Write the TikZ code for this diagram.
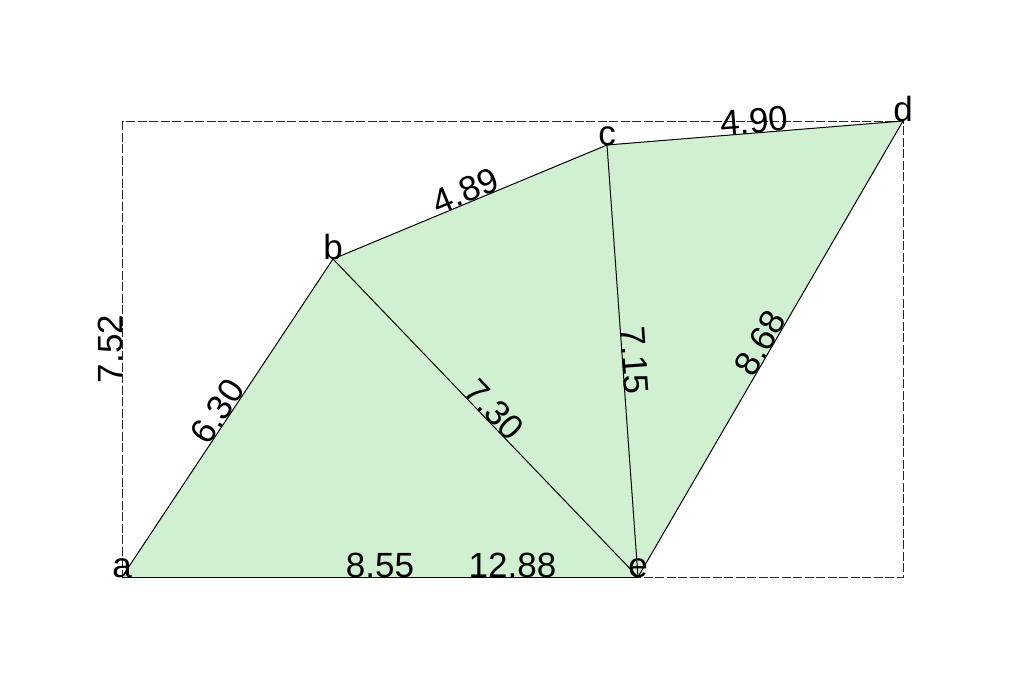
\documentclass[tikz,border=0pt]{standalone}
\usepackage{fontspec}
\setmainfont{Liberation Sans}
\definecolor{fillg}{RGB}{209,239,209}
\begin{document}
\begin{tikzpicture}[x=1pt,y=-1pt,
  lbl/.style={font=\fontsize{35}{42}\selectfont, anchor=base, inner sep=0pt, text=black},
  edge/.style={draw=black, line width=1pt},
  bbox/.style={draw=black!85, line width=0.9pt, dash pattern=on 9pt off 2.5pt}]
\useasboundingbox (0,0) rectangle (1024,699);
\coordinate (a) at (122,577);
\coordinate (b) at (333,259);
\coordinate (c) at (607,145);
\coordinate (d) at (903,121);
\coordinate (e) at (638,577);
\coordinate (tl) at (122,121);
\coordinate (br) at (903,577);
\draw[bbox] (tl) rectangle (br);
\fill[fillg] (a) -- (b) -- (c) -- (d) -- (e) -- cycle;
\draw[edge] (a) -- (b);
\draw[edge] (b) -- (c);
\draw[edge] (c) -- (d);
\draw[edge] (e) -- (d);
\draw[edge] (a) -- (e);
\draw[edge] (b) -- (e);
\draw[edge] (c) -- (e);
% edge labels
\path (a) -- node[lbl, sloped, pos=0.5] (lab) {6.30} (b);
\path (b) -- node[lbl, sloped, pos=0.5] (lbc) {4.89} (c);
\path (c) -- node[lbl, sloped, pos=0.5] (lcd) {4.90} (d);
\path (e) -- node[lbl, sloped, pos=0.5] (led) {8.68} (d);
\path (c) -- node[lbl, sloped, pos=0.5] (lce) {7.15} (e);
\path (b) -- node[lbl, sloped, pos=0.5] (lbe) {7.30} (e);
\path (a) -- node[lbl, pos=0.5] (lae) {8.55} (e);
\path (a) -- node[lbl, pos=0.5] (lw) {12.88} (br);
\path (a) -- node[lbl, sloped, pos=0.5] (lh) {7.52} (tl);
% vertex labels
\node[lbl] (na) at (a) {a};
\node[lbl] (nb) at (b) {b};
\node[lbl] (nc) at (c) {c};
\node[lbl] (nd) at (d) {d};
\node[lbl] (ne) at (e) {e};
\end{tikzpicture}
\end{document}
